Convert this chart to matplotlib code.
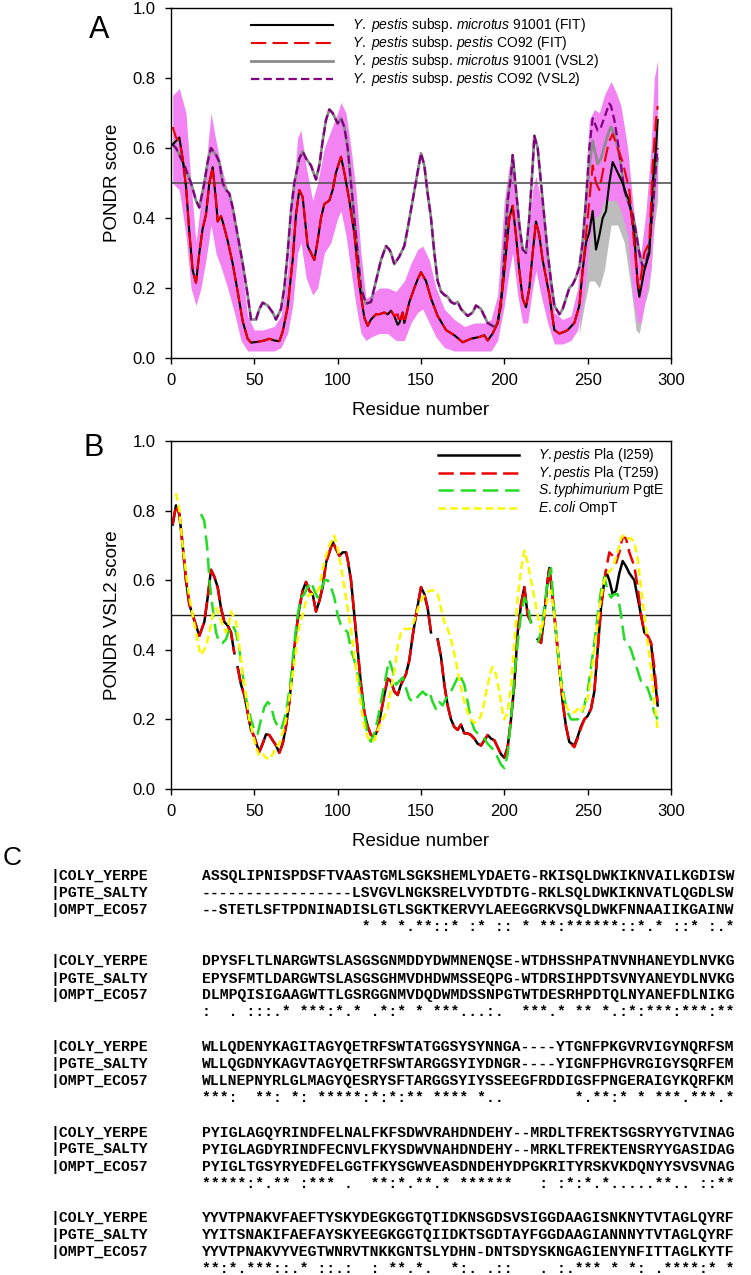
import numpy as np
import matplotlib
matplotlib.use("Agg")
import matplotlib.pyplot as plt

plt.rcParams["font.family"] = "Liberation Sans"
plt.rcParams["mathtext.fontset"] = "custom"
plt.rcParams["mathtext.rm"] = "Liberation Sans"
plt.rcParams["mathtext.it"] = "Liberation Sans:italic"
plt.rcParams["lines.scale_dashes"] = False

# ---------------- panel A : FIT ----------------
fit_x = [1, 3, 5, 7, 9, 11, 13, 15, 17, 19, 21, 23, 25, 27, 28, 30, 31, 34, 37, 40,
         43, 46, 48, 50, 53, 56, 59, 62, 65, 67, 70, 73, 75, 77, 79, 82, 84, 86, 88, 90,
         92, 95, 97, 99, 101, 102, 104, 107, 110, 113, 116, 118, 120, 123, 125, 128, 130,
         132, 134, 136, 137, 139, 140, 143, 146, 148, 150, 153, 156, 160, 165, 170, 175,
         180, 185, 188, 190, 193, 196, 199, 201, 203, 205, 207, 209, 211, 213, 215, 217,
         219, 221, 223, 225, 227, 230, 233, 236, 238, 240, 242, 245, 247, 249, 251, 253,
         255, 257, 259, 261, 263, 265, 268, 271, 273, 275, 278, 280, 281, 284, 287, 289,
         291, 292]
fit_pestis = [0.66, 0.63, 0.62, 0.57, 0.49, 0.36, 0.25, 0.215, 0.30, 0.37, 0.41, 0.50,
              0.545, 0.45, 0.39, 0.405, 0.39, 0.335, 0.27, 0.19, 0.105, 0.055, 0.044,
              0.045, 0.047, 0.05, 0.055, 0.05, 0.048, 0.075, 0.145, 0.28, 0.41, 0.48,
              0.46, 0.32, 0.30, 0.28, 0.335, 0.40, 0.44, 0.45, 0.48, 0.53, 0.56, 0.575,
              0.53, 0.45, 0.355, 0.21, 0.115, 0.092, 0.11, 0.125, 0.125, 0.13, 0.125,
              0.135, 0.12, 0.125, 0.10, 0.13, 0.10, 0.16, 0.20, 0.225, 0.245, 0.22, 0.17,
              0.12, 0.08, 0.065, 0.045, 0.055, 0.06, 0.065, 0.05, 0.07, 0.10, 0.20, 0.30,
              0.40, 0.435, 0.35, 0.25, 0.17, 0.145, 0.20, 0.30, 0.39, 0.35, 0.28, 0.23,
              0.18, 0.08, 0.07, 0.075, 0.08, 0.09, 0.10, 0.15, 0.25, 0.35, 0.45, 0.55,
              0.50, 0.48, 0.53, 0.58, 0.62, 0.64, 0.60, 0.56, 0.52, 0.48, 0.32, 0.22,
              0.20, 0.30, 0.33, 0.55, 0.68, 0.72]
fit_microtus = [0.61, 0.62, 0.63, 0.57, 0.49, 0.36, 0.25, 0.215, 0.30, 0.37, 0.41, 0.50,
                0.545, 0.45, 0.39, 0.405, 0.39, 0.335, 0.27, 0.19, 0.105, 0.055, 0.044,
                0.045, 0.047, 0.05, 0.055, 0.05, 0.048, 0.075, 0.145, 0.28, 0.41, 0.48,
                0.46, 0.32, 0.30, 0.28, 0.335, 0.40, 0.44, 0.45, 0.48, 0.53, 0.56, 0.575,
                0.53, 0.45, 0.355, 0.21, 0.115, 0.092, 0.11, 0.125, 0.125, 0.13, 0.125,
                0.135, 0.12, 0.095, 0.10, 0.13, 0.10, 0.16, 0.20, 0.225, 0.245, 0.22, 0.17,
                0.12, 0.08, 0.065, 0.045, 0.055, 0.06, 0.065, 0.05, 0.07, 0.10, 0.20, 0.30,
                0.40, 0.435, 0.35, 0.25, 0.17, 0.145, 0.20, 0.30, 0.39, 0.35, 0.28, 0.23,
                0.18, 0.08, 0.07, 0.075, 0.08, 0.09, 0.10, 0.15, 0.25, 0.33, 0.36, 0.42,
                0.31, 0.35, 0.40, 0.42, 0.50, 0.56, 0.53, 0.50, 0.47, 0.45, 0.35, 0.21,
                0.175, 0.25, 0.30, 0.50, 0.60, 0.68]

# pink / grey bands around the FIT curves
band_x = [1, 5, 9, 12, 15, 18, 21, 24, 27, 30, 34, 38, 42, 46, 50, 55, 62, 66, 70, 73,
          76, 78, 81, 85, 88, 92, 96, 100, 102, 105, 108, 111, 114, 117, 120, 125, 130,
          135, 140, 144, 148, 151, 155, 159, 164, 170, 176, 182, 188, 192, 196, 200, 203,
          205, 208, 211, 214, 217, 219, 222, 226, 230, 235, 240, 244, 248, 251, 254, 257,
          260, 264, 267, 270, 274, 277, 280, 282, 285, 288, 290, 292]
band_hi = [0.75, 0.77, 0.70, 0.50, 0.33, 0.45, 0.55, 0.70, 0.62, 0.55, 0.48, 0.40, 0.28,
           0.12, 0.08, 0.08, 0.09, 0.12, 0.25, 0.45, 0.63, 0.65, 0.55, 0.45, 0.50, 0.60,
           0.65, 0.70, 0.73, 0.70, 0.60, 0.48, 0.30, 0.17, 0.18, 0.20, 0.20, 0.19, 0.22,
           0.27, 0.31, 0.32, 0.28, 0.20, 0.14, 0.11, 0.09, 0.10, 0.10, 0.11, 0.18, 0.45,
           0.55, 0.58, 0.45, 0.30, 0.32, 0.48, 0.52, 0.45, 0.30, 0.13, 0.11, 0.12, 0.20,
           0.45, 0.68, 0.71, 0.70, 0.75, 0.79, 0.76, 0.72, 0.60, 0.45, 0.32, 0.30, 0.42,
           0.60, 0.80, 0.85]
band_lo = [0.50, 0.48, 0.35, 0.20, 0.15, 0.20, 0.28, 0.38, 0.30, 0.26, 0.20, 0.13, 0.05,
           0.02, 0.02, 0.02, 0.02, 0.03, 0.07, 0.15, 0.30, 0.33, 0.23, 0.18, 0.20, 0.30,
           0.33, 0.40, 0.42, 0.35, 0.25, 0.15, 0.07, 0.05, 0.06, 0.07, 0.07, 0.05, 0.05,
           0.10, 0.13, 0.14, 0.10, 0.06, 0.03, 0.02, 0.02, 0.02, 0.02, 0.02, 0.05, 0.15,
           0.25, 0.30, 0.18, 0.10, 0.10, 0.20, 0.25, 0.18, 0.10, 0.04, 0.04, 0.05, 0.08,
           0.18, 0.33, 0.40, 0.41, 0.45, 0.45, 0.45, 0.42, 0.35, 0.18, 0.10, 0.10, 0.18,
           0.25, 0.40, 0.50]
grey_x = [245, 248, 251, 254, 257, 260, 264, 268, 272, 276, 279, 281, 284, 287, 290, 292]
grey_hi = [0.20, 0.40, 0.50, 0.50, 0.45, 0.55, 0.65, 0.65, 0.60, 0.45, 0.25, 0.22, 0.35,
           0.45, 0.70, 0.78]
grey_lo = [0.07, 0.15, 0.22, 0.22, 0.20, 0.25, 0.38, 0.38, 0.33, 0.20, 0.08, 0.07, 0.15,
           0.20, 0.38, 0.45]

# ---------------- panel A : VSL2 ----------------
vsl_x = [1, 3, 5, 8, 12, 15, 17, 20, 22, 24, 27, 29, 31, 33, 35, 37, 40, 43, 46, 48, 51,
         53, 55, 58, 61, 63, 66, 68, 70, 72, 74, 77, 79, 81, 84, 87, 89, 91, 93, 95, 97,
         98, 100, 102, 104, 106, 108, 110, 112, 114, 117, 120, 122, 124, 126, 129, 131,
         132, 134, 137, 140, 142, 145, 148, 150, 152, 154, 156, 158, 160, 162, 164, 166,
         168, 170, 172, 174, 176, 178, 181, 183, 186, 188, 190, 194, 196, 198, 200, 202,
         204, 205, 207, 209, 211, 213, 215, 217, 218, 220, 222, 224, 226, 228, 230, 233,
         235, 237, 239, 241, 243, 245, 247, 249, 251, 253, 256, 258, 261, 263, 264, 266,
         268, 270, 272, 274, 277, 279, 281, 283, 285, 287, 289, 291, 292]
vsl_pestis = [0.61, 0.60, 0.58, 0.55, 0.50, 0.45, 0.43, 0.50, 0.56, 0.60, 0.58, 0.56,
              0.50, 0.48, 0.47, 0.43, 0.35, 0.27, 0.18, 0.11, 0.11, 0.14, 0.158, 0.15,
              0.13, 0.11, 0.14, 0.20, 0.30, 0.42, 0.50, 0.57, 0.59, 0.57, 0.55, 0.51,
              0.55, 0.62, 0.68, 0.71, 0.70, 0.69, 0.67, 0.685, 0.66, 0.60, 0.50, 0.40,
              0.30, 0.20, 0.155, 0.16, 0.20, 0.24, 0.28, 0.32, 0.31, 0.30, 0.268, 0.29,
              0.32, 0.37, 0.45, 0.53, 0.585, 0.55, 0.47, 0.40, 0.30, 0.22, 0.19, 0.18,
              0.175, 0.16, 0.155, 0.16, 0.14, 0.13, 0.12, 0.13, 0.15, 0.14, 0.12, 0.10,
              0.089, 0.10, 0.15, 0.30, 0.45, 0.52, 0.58, 0.48, 0.38, 0.31, 0.30, 0.40,
              0.55, 0.635, 0.60, 0.50, 0.40, 0.30, 0.22, 0.15, 0.125, 0.14, 0.17, 0.20,
              0.21, 0.23, 0.26, 0.33, 0.45, 0.60, 0.685, 0.65, 0.66, 0.70, 0.727, 0.72,
              0.68, 0.62, 0.55, 0.48, 0.45, 0.41, 0.36, 0.30, 0.26, 0.27, 0.32, 0.42,
              0.55, 0.60]
vsl_microtus = [0.61, 0.60, 0.58, 0.55, 0.50, 0.45, 0.43, 0.50, 0.56, 0.60, 0.58, 0.56,
                0.50, 0.48, 0.47, 0.43, 0.35, 0.27, 0.18, 0.11, 0.11, 0.14, 0.158, 0.15,
                0.13, 0.11, 0.14, 0.20, 0.30, 0.42, 0.50, 0.57, 0.59, 0.57, 0.55, 0.51,
                0.55, 0.62, 0.68, 0.71, 0.70, 0.69, 0.67, 0.685, 0.66, 0.60, 0.50, 0.40,
                0.30, 0.20, 0.155, 0.16, 0.20, 0.24, 0.28, 0.32, 0.31, 0.30, 0.268, 0.29,
                0.32, 0.37, 0.45, 0.53, 0.585, 0.55, 0.47, 0.40, 0.30, 0.22, 0.19, 0.18,
                0.175, 0.16, 0.155, 0.16, 0.14, 0.13, 0.12, 0.13, 0.15, 0.14, 0.12, 0.10,
                0.089, 0.10, 0.15, 0.30, 0.45, 0.52, 0.58, 0.48, 0.38, 0.31, 0.30, 0.40,
                0.55, 0.635, 0.60, 0.50, 0.40, 0.30, 0.22, 0.15, 0.125, 0.14, 0.17, 0.20,
                0.21, 0.23, 0.26, 0.33, 0.45, 0.55, 0.62, 0.555, 0.57, 0.62, 0.65, 0.66,
                0.64, 0.60, 0.55, 0.48, 0.45, 0.41, 0.36, 0.30, 0.26, 0.27, 0.32, 0.42,
                0.55, 0.57]

# ---------------- panel B : VSL2 of homologues ----------------
nan = np.nan
pla_x = [1, 3, 5, 7, 9, 11, 13, 15, 17, 20, 22, 24, 26, 28, 30, 32, 34, 36, 38, 39, 40,
         42, 44, 46, 48, 50, 52, 53, 55, 57, 59, 61, 63, 65, 67, 69, 71, 73, 75, 77, 79,
         81, 83, 85, 87, 89, 91, 93, 95, 97, 99, 101, 103, 105, 106, 108, 110, 112, 114,
         116, 118, 120, 122, 124, 126, 128, 130, 132, 134, 136, 138, 141, 143, 145, 147,
         150, 152, 154, 156, 158, 160, 162, 164, 166, 168, 170, 172, 174, 176, 178, 180,
         182, 184, 186, 188, 190, 192, 194, 196, 198, 200, 202, 204, 206, 208, 210, 212,
         214, 216, 218, 220, 222, 224, 226, 227, 229, 231, 233, 235, 237, 239, 242, 244,
         246, 248, 250, 252, 254, 256, 258, 260, 261, 263, 265, 267, 269, 271, 273, 275,
         278, 280, 282, 284, 286, 288, 290, 292]
pla_i259 = [0.76, 0.815, 0.79, 0.70, 0.60, 0.53, 0.50, 0.47, 0.44, 0.48, 0.55, 0.63,
            0.61, 0.58, 0.52, 0.48, 0.47, 0.45, 0.39, nan, 0.35, 0.30, 0.27, 0.22, 0.17,
            0.15, 0.12, 0.107, 0.13, 0.157, 0.155, 0.14, 0.125, 0.104, 0.13, 0.18, 0.25,
            0.35, 0.45, 0.52, 0.57, 0.595, 0.57, 0.56, 0.51, 0.54, 0.58, 0.65, 0.68, 0.71,
            0.69, 0.67, 0.68, 0.68, 0.66, 0.60, 0.50, 0.40, 0.30, 0.22, 0.18, 0.155, 0.15,
            0.17, 0.22, 0.27, 0.317, 0.31, 0.28, 0.27, 0.30, 0.33, 0.37, 0.44, 0.50, 0.58,
            0.56, 0.52, 0.45, nan, 0.43, 0.38, 0.30, 0.24, 0.20, 0.178, 0.17, 0.185, 0.16,
            0.16, 0.155, 0.145, 0.13, 0.125, 0.14, 0.155, 0.145, 0.14, 0.12, 0.10, 0.09,
            0.12, 0.20, 0.30, 0.45, 0.53, 0.58, 0.50, 0.48, nan, 0.43, 0.42, 0.50, 0.60,
            0.635, 0.55, 0.45, 0.35, 0.25, 0.18, 0.135, 0.125, 0.15, 0.18, 0.20, 0.21,
            0.23, 0.28, 0.40, 0.52, 0.60, 0.625, 0.60, 0.56, 0.57, 0.62, 0.655, 0.64,
            0.62, 0.60, 0.55, 0.50, 0.45, 0.44, 0.42, 0.33, 0.24]
pla_t259 = [0.76, 0.815, 0.79, 0.70, 0.60, 0.53, 0.50, 0.47, 0.44, 0.48, 0.55, 0.63,
            0.61, 0.58, 0.52, 0.48, 0.47, 0.45, 0.39, nan, 0.35, 0.30, 0.27, 0.22, 0.17,
            0.15, 0.12, 0.107, 0.13, 0.157, 0.155, 0.14, 0.125, 0.104, 0.13, 0.18, 0.25,
            0.35, 0.45, 0.52, 0.57, 0.595, 0.57, 0.56, 0.51, 0.54, 0.58, 0.65, 0.68, 0.71,
            0.69, 0.67, 0.68, 0.68, 0.66, 0.60, 0.50, 0.40, 0.30, 0.22, 0.18, 0.155, 0.15,
            0.17, 0.22, 0.27, 0.317, 0.31, 0.28, 0.27, 0.30, 0.33, 0.37, 0.44, 0.50, 0.58,
            0.56, 0.52, 0.45, nan, 0.43, 0.38, 0.30, 0.24, 0.20, 0.178, 0.17, 0.185, 0.16,
            0.16, 0.155, 0.145, 0.13, 0.125, 0.14, 0.155, 0.145, 0.14, 0.12, 0.10, 0.09,
            0.12, 0.20, 0.30, 0.45, 0.53, 0.58, 0.50, 0.48, nan, 0.43, 0.42, 0.50, 0.60,
            0.635, 0.55, 0.45, 0.35, 0.25, 0.18, 0.135, 0.12, 0.145, 0.175, 0.20, 0.21,
            0.23, 0.28, 0.40, 0.52, 0.60, 0.63, 0.68, 0.67, 0.65, 0.68, 0.725, 0.72,
            0.68, 0.64, 0.58, 0.50, 0.45, 0.44, 0.42, 0.35, 0.25]

pgte_x = [18, 20, 22, 23, 25, 27, 29, 31, 33, 35, 37, 39, 41, 43, 45, 48, 50, 52, 54, 56,
          58, 60, 62, 64, 66, 68, 70, 72, 74, 76, 78, 80, 82, 84, 86, 88, 90, 92, 94, 96,
          98, 100, 102, 104, 106, 108, 110, 112, 114, 116, 118, 120, 122, 124, 126, 128,
          130, 131, 133, 135, 137, 139, 141, 143, 145, 147, 149, 151, 153, 155, 157, 159,
          161, 163, 165, 167, 170, 173, 176, 178, 180, 182, 184, 186, 188, 190, 192, 194,
          196, 198, 200, 202, 204, 206, 208, 210, 212, 214, 216, 218, 220, 222, 224, 226,
          228, 230, 232, 234, 236, 238, 240, 242, 244, 246, 248, 250, 252, 254, 256, 258,
          260, 262, 264, 266, 268, 270, 272, 274, 276, 278, 280, 282, 284, 286, 288, 290,
          292]
pgte = [0.79, 0.77, 0.68, 0.60, 0.52, 0.45, 0.42, 0.42, 0.43, 0.46, 0.47, 0.45, 0.40,
        0.33, 0.26, 0.20, 0.17, 0.158, 0.20, 0.235, 0.25, 0.24, 0.20, 0.18, 0.17, 0.20,
        0.25, 0.32, 0.42, 0.50, 0.55, 0.56, 0.58, 0.595, 0.57, 0.55, 0.57, 0.60, 0.60,
        0.58, 0.55, 0.50, 0.47, 0.46, 0.45, 0.40, 0.37, 0.33, 0.28, 0.22, 0.15, 0.136,
        0.16, 0.20, 0.25, 0.30, 0.35, 0.37, 0.34, 0.30, 0.31, 0.32, 0.29, 0.26, 0.25,
        0.26, 0.27, 0.28, 0.27, 0.28, 0.25, 0.23, 0.25, 0.24, 0.26, 0.27, 0.30, 0.33,
        0.30, 0.25, 0.20, 0.17, 0.16, 0.155, 0.145, 0.13, 0.12, 0.11, 0.09, 0.07, 0.06,
        0.10, 0.20, 0.32, 0.42, 0.50, 0.55, 0.53, 0.475, nan, 0.42, 0.45, 0.52, 0.60,
        0.635, 0.50, 0.40, 0.32, 0.26, 0.22, 0.20, 0.20, 0.20, 0.21, 0.24, 0.28, 0.35,
        0.42, 0.50, 0.57, 0.61, 0.57, 0.55, 0.56, 0.56, 0.50, 0.43, 0.42, 0.40, 0.37,
        0.34, 0.31, 0.30, 0.29, 0.26, 0.22, 0.20]

ompt_x = [3, 5, 7, 9, 11, 13, 15, 17, 18, 21, 23, 25, 27, 29, 31, 33, 35, 36, 39, 41, 43,
          45, 47, 49, 51, 53, 55, 57, 59, 61, 63, 65, 67, 69, 71, 73, 75, 77, 79, 81, 83,
          85, 87, 89, 91, 93, 95, 98, 100, 102, 104, 106, 108, 110, 112, 114, 116, 118,
          120, 122, 124, 126, 128, 130, 132, 134, 136, 138, 140, 143, 145, 147, 149, 151,
          153, 155, 158, 160, 162, 164, 166, 168, 170, 172, 174, 176, 178, 180, 182, 184,
          186, 188, 190, 192, 193, 195, 197, 199, 200, 202, 204, 206, 208, 210, 212, 214,
          216, 218, 220, 222, 224, 226, 228, 230, 232, 234, 236, 238, 240, 242, 244, 246,
          248, 250, 252, 254, 256, 258, 260, 262, 264, 266, 268, 270, 272, 274, 276, 278,
          280, 282, 284, 286, 288, 290, 292]
ompt = [0.85, 0.80, 0.70, 0.62, 0.55, 0.50, 0.45, 0.40, 0.385, 0.41, 0.45, 0.50, 0.52,
        0.50, 0.47, 0.45, 0.48, 0.51, 0.48, 0.41, 0.33, 0.27, 0.20, 0.16, 0.12, 0.095,
        0.10, 0.09, 0.085, 0.10, 0.12, 0.13, 0.16, 0.20, 0.26, 0.33, 0.40, 0.47, 0.50,
        0.54, 0.56, 0.56, 0.56, 0.58, 0.63, 0.67, 0.70, 0.728, 0.69, 0.64, 0.58, 0.52,
        0.46, 0.38, 0.31, 0.24, 0.18, 0.15, 0.136, 0.14, 0.17, 0.19, 0.21, 0.23, 0.29,
        0.34, 0.41, 0.45, 0.46, 0.46, 0.47, 0.50, 0.53, 0.55, 0.56, 0.57, 0.57, 0.56,
        0.52, 0.48, 0.46, 0.43, 0.39, 0.34, 0.29, 0.25, 0.22, 0.20, 0.19, 0.195, 0.21,
        0.25, 0.30, 0.34, 0.35, 0.33, 0.28, 0.22, 0.20, 0.22, 0.30, 0.42, 0.55, 0.63,
        0.685, 0.65, 0.60, 0.55, 0.50, 0.45, 0.50, 0.55, 0.57, 0.50, 0.40, 0.30, 0.25,
        0.23, 0.22, 0.22, 0.23, 0.22, 0.24, 0.26, 0.32, 0.40, 0.48, 0.55, 0.60, 0.62,
        0.63, 0.65, 0.68, 0.72, 0.73, 0.72, 0.72, 0.71, 0.66, 0.58, 0.50, 0.42, 0.35,
        0.25, 0.17]

# ---------------- panel C : alignment ----------------
seq_names = ["|COLY_YERPE", "|PGTE_SALTY", "|OMPT_ECO57"]
aln_blocks = [
    ["ASSQLIPNISPDSFTVAASTGMLSGKSHEMLYDAETG-RKISQLDWKIKNVAILKGDISW",
     "-----------------LSVGVLNGKSRELVYDTDTG-RKLSQLDWKIKNVATLQGDLSW",
     "--STETLSFTPDNINADISLGTLSGKTKERVYLAEEGGRKVSQLDWKFNNAAIIKGAINW",
     "                  * * *.**::* :* :: * **:******::*.* ::* :.*"],
    ["DPYSFLTLNARGWTSLASGSGNMDDYDWMNENQSE-WTDHSSHPATNVNHANEYDLNVKG",
     "EPYSFMTLDARGWTSLASGSGHMVDHDWMSSEQPG-WTDRSIHPDTSVNYANEYDLNVKG",
     "DLMPQISIGAAGWTTLGSRGGNMVDQDWMDSSNPGTWTDESRHPDTQLNYANEFDLNIKG",
     ":  . :::.* ***:*.* .*:* * ***...:.  ***.* ** *.:*:***:***:**"],
    ["WLLQDENYKAGITAGYQETRFSWTATGGSYSYNNGA----YTGNFPKGVRVIGYNQRFSM",
     "WLLQGDNYKAGVTAGYQETRFSWTARGGSYIYDNGR----YIGNFPHGVRGIGYSQRFEM",
     "WLLNEPNYRLGLMAGYQESRYSFTARGGSYIYSSEEGFRDDIGSFPNGERAIGYKQRFKM",
     "***:  **: *: *****:*:*:** **** *..        *.**:* * ***.***.*"],
    ["PYIGLAGQYRINDFELNALFKFSDWVRAHDNDEHY--MRDLTFREKTSGSRYYGTVINAG",
     "PYIGLAGDYRINDFECNVLFKYSDWVNAHDNDEHY--MRKLTFREKTENSRYYGASIDAG",
     "PYIGLTGSYRYEDFELGGTFKYSGWVEASDNDEHYDPGKRITYRSKVKDQNYYSVSVNAG",
     "*****:*.** :*** .  **:*.**.* ******   : :*:*.*.....**.. ::**"],
    ["YYVTPNAKVFAEFTYSKYDEGKGGTQTIDKNSGDSVSIGGDAAGISNKNYTVTAGLQYRF",
     "YYITSNAKIFAEFAYSKYEEGKGGTQIIDKTSGDTAYFGGDAAGIANNNYTVTAGLQYRF",
     "YYVTPNAKVYVEGTWNRVTNKKGNTSLYDHN-DNTSDYSKNGAGIENYNFITTAGLKYTF",
     "**:*.***::.* ::.:  : **.*.  *:. .::   . :.*** * *: .****:* *"],
]

W, H = 751, 1275
fig = plt.figure(figsize=(W / 100, H / 100), dpi=100)


def px(x, y):
    return x / W, 1 - y / H


def style_axes(ax, ylabel):
    ax.set_xlim(0, 300)
    ax.set_ylim(0, 1)
    ax.set_xticks(range(0, 301, 50))
    ax.set_yticks(np.arange(0, 1.01, 0.2))
    ax.set_yticklabels(["%.1f" % v for v in np.arange(0, 1.01, 0.2)])
    ax.tick_params(direction="out", length=4, width=1, labelsize=12, pad=7,
                   top=False, right=False)
    for s in ax.spines.values():
        s.set_linewidth(1)
    ax.set_xlabel("Residue number", fontsize=13.5)
    ax.set_ylabel(ylabel, fontsize=13.5)
    ax.xaxis.set_label_coords(0.5, -0.125)
    ax.yaxis.set_label_coords(-0.1, 0.5)


def legend_rows(ax, rows, x0, x1, xt, ys):
    for (lab, kw), y in zip(rows, ys):
        ax.plot([x0, x1], [y, y], transform=ax.transAxes, clip_on=False, **kw)
        ax.text(xt, y, lab, transform=ax.transAxes, fontsize=10, va="center", ha="left")


# ---- A
axA = fig.add_axes([171 / W, 1 - 358 / H, 500 / W, 350 / H])
axA.fill_between(grey_x, grey_lo, grey_hi, color="#bdbdbd", lw=0)
axA.fill_between(band_x, band_lo, band_hi, color="#f383f3", lw=0)
axA.axhline(0.5, color="#555555", lw=1.2)
kw_gray = dict(color="#8c8c8c", lw=2.0)
kw_purple = dict(color="#800080", lw=1.6, dashes=(6, 3))
kw_black = dict(color="black", lw=1.5)
kw_red = dict(color="#ee0000", lw=1.5, dashes=(11, 4.5))
axA.plot(vsl_x, vsl_microtus, **kw_gray)
axA.plot(vsl_x, vsl_pestis, **kw_purple)
axA.plot(fit_x, fit_microtus, **kw_black)
axA.plot(fit_x, fit_pestis, **kw_red)
style_axes(axA, "PONDR score")
legend_rows(axA, [
    (r"$\mathit{Y.\ pestis}$ subsp. $\mathit{microtus}$ 91001 (FIT)", kw_black),
    (r"$\mathit{Y.\ pestis}$ subsp. $\mathit{pestis}$ CO92 (FIT)", kw_red),
    (r"$\mathit{Y.\ pestis}$ subsp. $\mathit{microtus}$ 91001 (VSL2)", kw_gray),
    (r"$\mathit{Y.\ pestis}$ subsp. $\mathit{pestis}$ CO92 (VSL2)", kw_purple),
], 0.16, 0.324, 0.362, [0.951, 0.90, 0.849, 0.797])

# ---- B
axB = fig.add_axes([171 / W, 1 - 789 / H, 500 / W, 348 / H])
axB.axhline(0.5, color="#222222", lw=1.0)
kw_b_black = dict(color="black", lw=1.8)
kw_b_red = dict(color="#ee0000", lw=1.8, dashes=(11, 4.5))
kw_b_green = dict(color="#22dd22", lw=1.8, dashes=(11, 5))
kw_b_yellow = dict(color="#f8f800", lw=1.8, dashes=(5.5, 3))
axB.plot(pla_x, pla_i259, **kw_b_black)
axB.plot(pla_x, pla_t259, **kw_b_red)
axB.plot(pgte_x, pgte, **kw_b_green)
axB.plot(ompt_x, ompt, **kw_b_yellow)
style_axes(axB, "PONDR VSL2 score")
legend_rows(axB, [
    (r"$\mathit{Y.pestis}$ Pla (I259)", kw_b_black),
    (r"$\mathit{Y.pestis}$ Pla (T259)", kw_b_red),
    (r"$\mathit{S.typhimurium}$ PgtE", kw_b_green),
    (r"$\mathit{E.coli}$ OmpT", kw_b_yellow),
], 0.534, 0.696, 0.734, [0.96, 0.908, 0.859, 0.807])

# panel letters
fig.text(*px(99, 30), "A", fontsize=22, ha="center", va="center")
fig.text(*px(94, 448), "B", fontsize=22, ha="center", va="center")
fig.text(*px(12, 858), "C", fontsize=19, ha="center", va="center")

# alignment
mono = dict(family="Liberation Mono", fontsize=10.6, fontweight="bold", va="center")
for b, block in enumerate(aln_blocks):
    y0 = 876 + 85.5 * b
    for j, line in enumerate(block):
        y = y0 + 17 * j
        if j < 3:
            fig.text(*px(50, y), seq_names[j], ha="left", **mono)
        fig.text(*px(202, y), line, ha="left", **mono)

fig.savefig("out.png", dpi=100)
